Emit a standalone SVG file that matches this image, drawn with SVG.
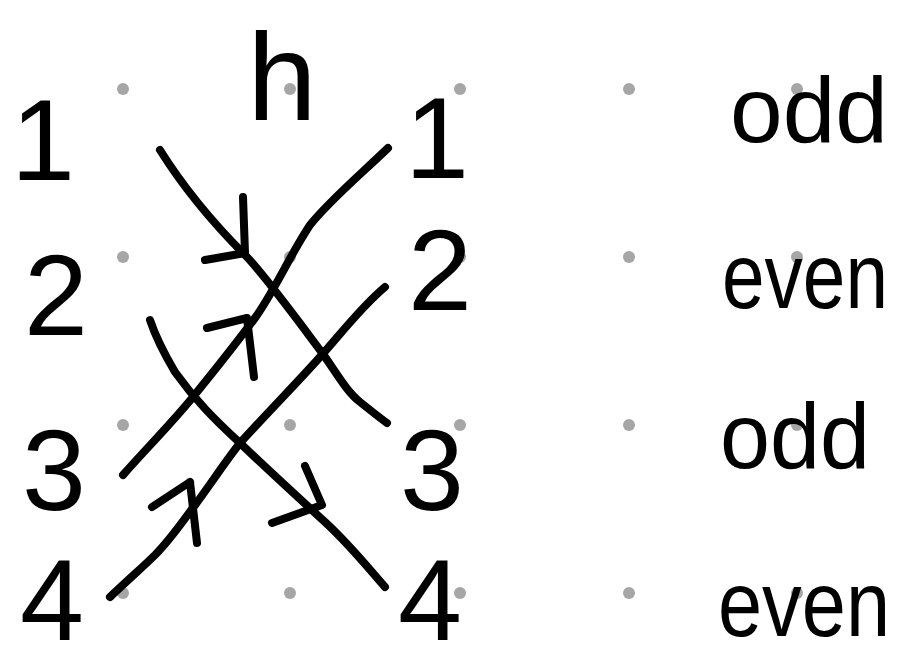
<svg xmlns="http://www.w3.org/2000/svg" width="921" height="670" viewBox="0 0 921 670">
<style>
.dot{fill:#a6a6a6}
.lbl{font-family:"Liberation Sans",Arial,sans-serif;fill:#000;text-anchor:middle}
.num{font-size:115px}
.word{font-size:92px;text-anchor:start}
.stroke{fill:none;stroke:#000;stroke-width:8;stroke-linecap:round;stroke-linejoin:round}
</style>
<rect width="921" height="670" fill="#fff"/>
<g id="grid">
<circle class="dot" cx="123" cy="89" r="6"/><circle class="dot" cx="290" cy="89" r="6"/><circle class="dot" cx="460" cy="89" r="6"/><circle class="dot" cx="629" cy="89" r="6"/><circle class="dot" cx="797" cy="89" r="6"/>
<circle class="dot" cx="123" cy="257" r="6"/><circle class="dot" cx="290" cy="257" r="6"/><circle class="dot" cx="460" cy="257" r="6"/><circle class="dot" cx="629" cy="257" r="6"/><circle class="dot" cx="797" cy="257" r="6"/>
<circle class="dot" cx="123" cy="425" r="6"/><circle class="dot" cx="290" cy="425" r="6"/><circle class="dot" cx="460" cy="425" r="6"/><circle class="dot" cx="629" cy="425" r="6"/><circle class="dot" cx="797" cy="425" r="6"/>
<circle class="dot" cx="123" cy="593" r="6"/><circle class="dot" cx="290" cy="593" r="6"/><circle class="dot" cx="460" cy="593" r="6"/><circle class="dot" cx="629" cy="593" r="6"/><circle class="dot" cx="797" cy="593" r="6"/>
</g>
<g id="connectors">
<path class="stroke" d="M160,150 C185,190 215,225 245,255 C262,272 290,310 320,350 C335,370 345,390 360,402 C370,410 380,418 387,423"/>
<path class="stroke" d="M245,253 L243,197 M245,253 L205,260"/>
<path class="stroke" d="M123,475 C145,450 170,425 193,397 C215,370 235,345 255,318 C275,290 290,255 310,225 C330,200 360,175 388,148"/>
<path class="stroke" d="M247,318 L207,328 M247,318 L254,377"/>
<path class="stroke" d="M150,320 C155,335 162,350 175,372 C195,400 215,420 240,443 C265,467 290,490 325,522 C350,545 370,570 385,587"/>
<path class="stroke" d="M322,505 L305,466 M322,505 L272,523"/>
<path class="stroke" d="M110,597 C130,578 145,565 155,555 C170,540 180,525 195,505 C210,485 225,462 240,443 C270,410 295,385 320,357 C340,335 360,308 385,287"/>
<path class="stroke" d="M190,482 L152,507 M190,482 L197,543"/>
</g>
<g id="n-h"><text class="lbl" x="282" y="120" font-size="125">h</text></g>
<g id="n-l1"><text class="lbl num" x="43" y="180">1</text></g>
<g id="n-l2"><text class="lbl num" x="56" y="335">2</text></g>
<g id="n-l3"><text class="lbl num" x="54" y="510">3</text></g>
<g id="n-l4"><text class="lbl num" x="52" y="640">4</text></g>
<g id="n-r1"><text class="lbl num" x="437" y="178">1</text></g>
<g id="n-r2"><text class="lbl num" x="440" y="310">2</text></g>
<g id="n-r3"><text class="lbl num" x="432" y="510">3</text></g>
<g id="n-r4"><text class="lbl num" x="430" y="640">4</text></g>
<g id="n-odd1"><text class="lbl word" x="730" y="142" textLength="158" lengthAdjust="spacingAndGlyphs">odd</text></g>
<g id="n-even1"><text class="lbl word" x="722" y="308" textLength="166" lengthAdjust="spacingAndGlyphs">even</text></g>
<g id="n-odd2"><text class="lbl word" x="720" y="468" textLength="150" lengthAdjust="spacingAndGlyphs">odd</text></g>
<g id="n-even2"><text class="lbl word" x="718" y="636" textLength="172" lengthAdjust="spacingAndGlyphs">even</text></g>
</svg>
